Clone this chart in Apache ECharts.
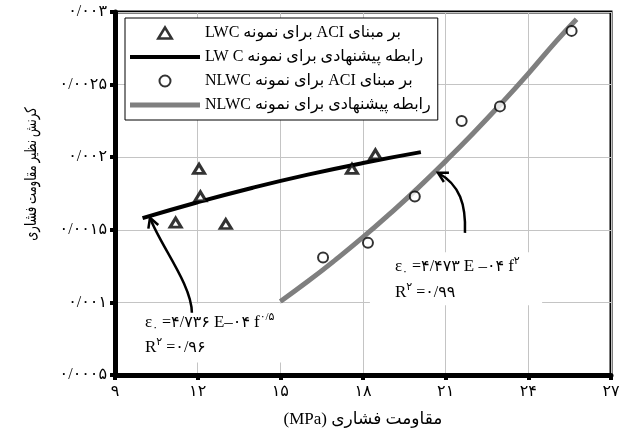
<!DOCTYPE html>
<html>
<head>
<meta charset="utf-8">
<script src="https://cdn.jsdelivr.net/npm/echarts@6/dist/echarts.min.js"></script>
<style>
  html, body { margin: 0; padding: 0; background: #fff; }
  #chart { width: 626px; height: 435px; }
</style>
</head>
<body>
<div id="chart"></div>
<script>
// Tick labels (Persian digits, slash as decimal separator)
const xTickLabels = ['۹', '۱۲', '۱۵', '۱۸', '۲۱', '۲۴', '۲۷'];
const yTickLabels = ['۰/۰۰۰۵', '۰/۰۰۱', '۰/۰۰۱۵', '۰/۰۰۲', '۰/۰۰۲۵', '۰/۰۰۳'];

// Series names
const seriesNames = [
  'بر مبنای ACI برای نمونه LWC',
  'رابطه پیشنهادی برای نمونه LW C',
  'بر مبنای ACI برای نمونه NLWC',
  'رابطه پیشنهادی برای نمونه NLWC'
];

// LWC specimens, ACI-based strain (MPa, strain)
const lwcStrength = [11.2, 12.05, 12.1, 13.02, 17.6, 18.45];
const lwcStrain = [0.00155, 0.00192, 0.00173, 0.00154, 0.00192, 0.00202];

// Proposed relation for LWC
const lwcFitStrength = [10.0, 12, 14, 16, 18, 20.1];
const lwcFitStrain = [0.00158, 0.00169, 0.00179, 0.00188, 0.00196, 0.002035];

// NLWC specimens, ACI-based strain
const nlwcStrength = [16.55, 18.18, 19.88, 21.58, 22.97, 25.57];
const nlwcStrain = [0.00131, 0.00141, 0.00173, 0.00225, 0.00235, 0.00287];

// Proposed relation for NLWC
const nlwcFitStrength = [15, 16, 17, 18, 19, 20, 21, 22, 23, 24, 25, 25.75];
const nlwcFitStrain = [0.001006, 0.001145, 0.001293, 0.001449, 0.001615, 0.001789, 0.001973, 0.002165, 0.002366, 0.002576, 0.002796, 0.00295];

const pairs = (xs, ys) => xs.map((x, i) => [x, ys[i]]);
const RLE = '\u202B', PDF = '\u202C';
const rtl = s => RLE + s + PDF;

const FONT = "'Liberation Serif', 'DejaVu Sans', serif";

// Legend icons: marker shapes and bar-like line strokes
const ICON_TRIANGLE = 'path://M0,9 L5.5,0 L11,9 Z';
const ICON_CIRCLE = 'path://M10,5 A5,5 0 1,1 0,5 A5,5 0 1,1 10,5 Z';
const ICON_LINE_BLACK = 'path://M0,0 L70,0 L70,4 L0,4 Z';
const ICON_LINE_GRAY = 'path://M0,0 L70,0 L70,5 L0,5 Z';

const chart = echarts.init(document.getElementById('chart'), null, { renderer: 'canvas' });

chart.setOption({
  animation: false,
  backgroundColor: '#fff',
  textStyle: { fontFamily: FONT },
  grid: {
    left: 115, right: 15, top: 12, bottom: 60,
    show: true, borderColor: '#000', borderWidth: 3, backgroundColor: 'transparent'
  },
  legend: {
    orient: 'vertical',
    left: 125, top: 18,
    backgroundColor: '#fff',
    borderColor: '#000', borderWidth: 1, borderRadius: 0,
    padding: [7, 7, 7, 5],
    itemWidth: 70, itemHeight: 11, itemGap: 8, itemTextGap: 5,
    symbolKeepAspect: true,
    textStyle: { fontFamily: FONT, fontSize: 16, color: '#000' },
    formatter: name => rtl(name),
    data: [
      { name: seriesNames[0], icon: ICON_TRIANGLE, itemStyle: { color: '#fff', borderColor: '#000', borderWidth: 2.5 } },
      { name: seriesNames[1], icon: ICON_LINE_BLACK, itemStyle: { color: '#000', borderWidth: 0 } },
      { name: seriesNames[2], icon: ICON_CIRCLE, itemStyle: { color: '#fff', borderColor: '#000', borderWidth: 2 } },
      { name: seriesNames[3], icon: ICON_LINE_GRAY, itemStyle: { color: '#7f7f7f', borderWidth: 0 } }
    ]
  },
  xAxis: {
    type: 'value', min: 9, max: 27, interval: 3,
    name: rtl('مقاومت فشاری (MPa)'),
    nameLocation: 'middle', nameGap: 36,
    nameTextStyle: { fontFamily: FONT, fontSize: 17, color: '#000' },
    axisLine: { show: true, lineStyle: { color: '#000', width: 5 } },
    axisTick: { show: true, length: 5, lineStyle: { color: '#000', width: 4 } },
    axisLabel: {
      margin: 9, color: '#000', fontFamily: FONT, fontSize: 16,
      formatter: v => xTickLabels[Math.round((v - 9) / 3)]
    },
    splitLine: { show: true, lineStyle: { color: '#c4c4c4', width: 1 } }
  },
  yAxis: {
    type: 'value', min: 0.0005, max: 0.003, interval: 0.0005,
    axisLine: { show: true, lineStyle: { color: '#000', width: 5 } },
    axisTick: { show: true, length: 5, lineStyle: { color: '#000', width: 4 } },
    axisLabel: {
      margin: 8, color: '#000', fontFamily: FONT, fontSize: 16,
      formatter: v => yTickLabels[Math.round(v / 0.0005) - 1]
    },
    splitLine: { show: true, lineStyle: { color: '#c4c4c4', width: 1 } }
  },
  series: [
    {
      name: seriesNames[0], type: 'scatter', z: 5,
      symbol: 'triangle', symbolSize: [11, 9],
      itemStyle: { color: '#fff', borderColor: '#000', borderWidth: 3 },
      data: pairs(lwcStrength, lwcStrain)
    },
    {
      name: seriesNames[1], type: 'line', z: 3,
      symbol: 'none', smooth: true,
      lineStyle: { color: '#000', width: 4 }, itemStyle: { color: '#000' },
      data: pairs(lwcFitStrength, lwcFitStrain)
    },
    {
      name: seriesNames[2], type: 'scatter', z: 5,
      symbol: 'circle', symbolSize: 10,
      itemStyle: { color: '#fff', borderColor: '#000', borderWidth: 2 },
      data: pairs(nlwcStrength, nlwcStrain)
    },
    {
      name: seriesNames[3], type: 'line', z: 2,
      symbol: 'none', smooth: true,
      lineStyle: { color: '#7f7f7f', width: 5 }, itemStyle: { color: '#7f7f7f' },
      data: pairs(nlwcFitStrength, nlwcFitStrain)
    }
  ]
});

// Annotation anchors in data space (strength, strain)
const leftArrow = [[11.79, 0.000928], [11.79, 0.001121], [10.63, 0.001397], [10.27, 0.001583]];
const rightArrow = [[21.70, 0.001479], [21.74, 0.001672], [21.52, 0.001810], [20.72, 0.001893]];
const leftLabelAt = [10.09, 0.000859];
const leftR2At = [10.09, 0.000686];
const rightLabelAt = [19.16, 0.001245];
const rightR2At = [19.16, 0.001065];
const leftBox = [[9.9, 0.000993], [15.4, 0.000586]];
const rightBox = [[18.25, 0.001345], [24.5, 0.000980]];

const px = p => chart.convertToPixel({ gridIndex: 0 }, p);

function arrow(points) {
  const [p0, p1, p2, p3] = points.map(px);
  const dx = p3[0] - p2[0], dy = p3[1] - p2[1];
  const ang = Math.atan2(dy, dx);
  const len = 11, spread = 0.5;
  const a1 = [p3[0] - len * Math.cos(ang - spread), p3[1] - len * Math.sin(ang - spread)];
  const a2 = [p3[0] - len * Math.cos(ang + spread), p3[1] - len * Math.sin(ang + spread)];
  return [
    {
      type: 'bezierCurve', z: 20,
      shape: { x1: p0[0], y1: p0[1], cpx1: p1[0], cpy1: p1[1], cpx2: p2[0], cpy2: p2[1], x2: p3[0], y2: p3[1] },
      style: { stroke: '#000', lineWidth: 2.5, fill: null }
    },
    {
      type: 'polyline', z: 20,
      shape: { points: [a1, p3, a2] },
      style: { stroke: '#000', lineWidth: 2.5, fill: null, lineJoin: 'miter' }
    }
  ];
}

function whiteBox(b) {
  const a = px(b[0]), c = px(b[1]);
  return {
    type: 'rect', z: 10,
    shape: { x: a[0], y: a[1], width: c[0] - a[0], height: c[1] - a[1] },
    style: { fill: '#fff', stroke: null }
  };
}

const rich = {
  m: { fontFamily: FONT, fontSize: 17, lineHeight: 22, fill: '#000' },
  d: { fontFamily: FONT, fontSize: 16, lineHeight: 22, fill: '#000' },
  sub: { fontFamily: FONT, fontSize: 11, lineHeight: 12, verticalAlign: 'bottom', fill: '#000' },
  sup: { fontFamily: FONT, fontSize: 11, lineHeight: 12, verticalAlign: 'top', fill: '#000' }
};

function label(at, text) {
  const p = px(at);
  return {
    type: 'text', z: 21, x: p[0], y: p[1],
    style: { text, rich, textAlign: 'left', textVerticalAlign: 'middle', fill: '#000' }
  };
}

// Vertical axis title, reading bottom to top, condensed along its length
const yName = {
  type: 'text', z: 21, x: 32, y: 174, rotation: Math.PI / 2, scaleX: 0.72,
  style: {
    text: rtl('کرنش نظیر مقاومت فشاری'),
    font: '16px ' + FONT, fill: '#000',
    textAlign: 'center', textVerticalAlign: 'middle'
  }
};

chart.setOption({
  graphic: [
    whiteBox(leftBox),
    whiteBox(rightBox),
    ...arrow(leftArrow),
    ...arrow(rightArrow),
    label(leftLabelAt, '{m|ε}{sub|۰}{d| =۴/۷۳۶ }{m|E–}{d|۰۴ }{m|f}{sup|۰/۵}'),
    label(leftR2At, '{m|R}{sup|۲}{d| =۰/۹۶}'),
    label(rightLabelAt, '{m|ε}{sub|۰}{d| =۴/۴۷۳ }{m|E –}{d|۰۴ }{m|f}{sup|۲}'),
    label(rightR2At, '{m|R}{sup|۲}{d| =۰/۹۹}'),
    yName
  ]
});
</script>
</body>
</html>
